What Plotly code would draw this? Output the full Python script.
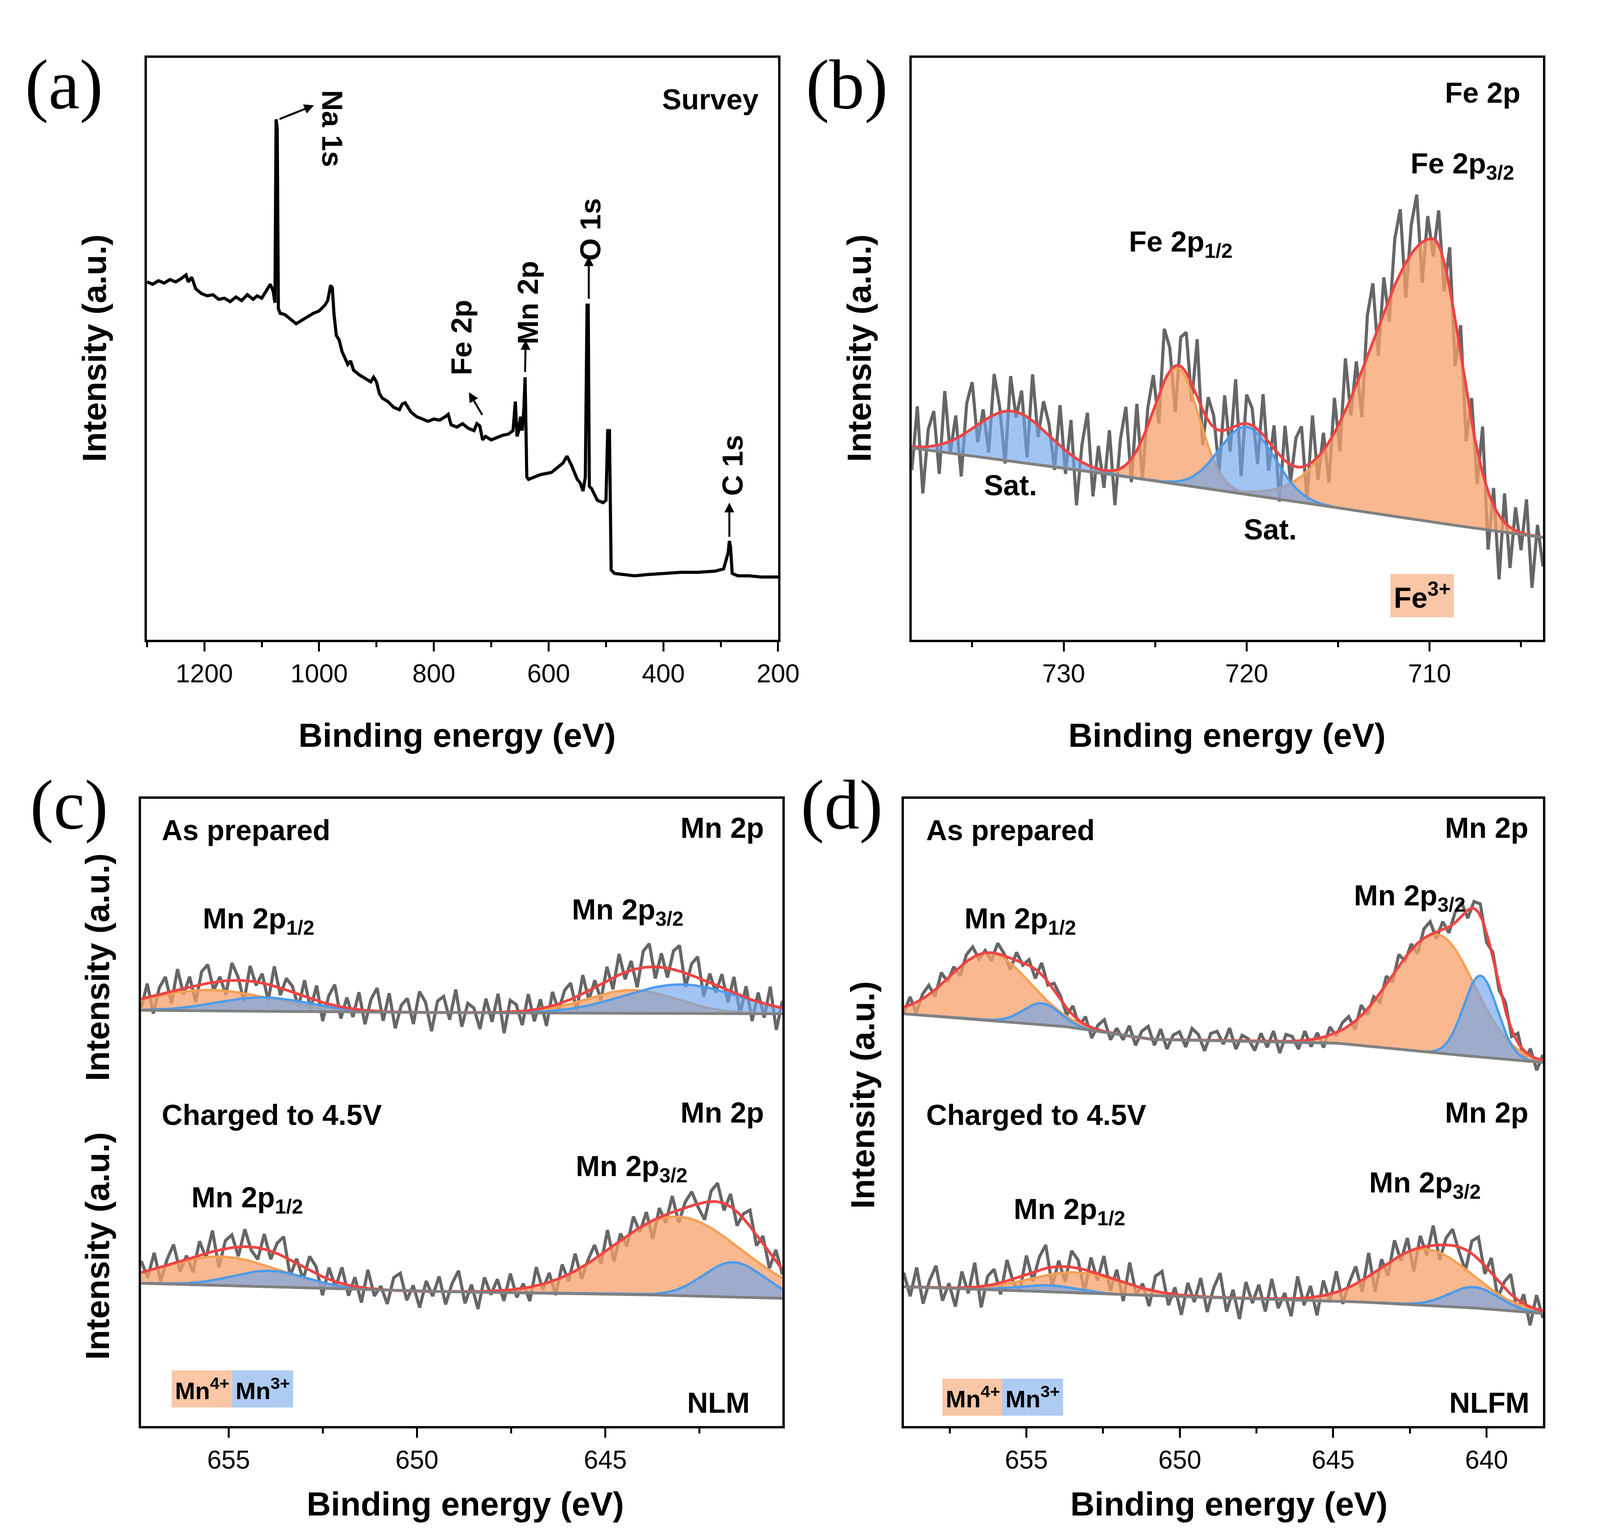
import numpy as np
import plotly.graph_objects as go

# ---------------- data ----------------
survey_be = [1300,1290,1280,1270,1260,1250,1240,1232,1228,1222,1215,1205,1195,1185,1175,1165,1155,1145,1135,1125,1115,1108,1100,1092,1085,1080,1077,1075,1073,1071,1068,1060,1050,1040,1030,1020,1010,1000,990,985,980,977,974,970,965,960,955,950,945,940,930,920,910,905,900,895,890,880,870,860,855,850,840,830,820,810,800,790,780,775,770,760,750,740,730,725,720,715,710,700,690,680,670,662,658,655,652,649,646,643,641,638,635,625,615,605,595,585,575,568,560,550,545,540,536,533,531,529,525,515,505,500,497,494,491,485,470,450,430,400,370,340,310,295,287,285,283,280,270,250,230,200]
survey_int = [308,306,309,307,310,308,311,314,308,312,302,298,296,297,293,294,291,295,292,297,293,296,294,300,306,300,290,448,440,285,281,280,276,272,275,278,281,283,288,292,305,303,280,262,258,248,243,237,240,232,228,225,222,226,222,212,208,205,200,198,203,204,196,192,190,188,190,189,192,194,185,183,186,182,180,186,184,172,175,172,174,176,177,180,205,175,180,192,180,200,226,140,138,140,142,143,144,148,152,158,150,138,135,128,140,288,288,132,130,120,118,120,180,180,60,57,56,55,56,57,58,58,59,61,75,85,80,57,55,55,54,54]

# peaks: (center eV, height, sigma on high-BE side, sigma on low-BE side)
fe_range = [738.3, 703.8]
fe_bg_be = [738.3, 730.0, 719.0, 710.7, 703.8]
fe_bg_int = [165, 148, 123, 103, 88]
fe_orange = [(709.8, 244, 3.3, 1.5), (723.8, 100, 1.3, 1.2)]
fe_blue = [(732.8, 43, 2.0, 2.0), (720.0, 58, 1.5, 1.5)]
fe_res = [-20,35,-40,15,30,-25,45,-10,20,-35,25,40,-15,10,-30,35,5,-45,30,-5,20,-35,40,-10,25,10,-25,35,-20,30,-40,15,45,-25,20,-15,35,-30,25,50,-20,40,-35,15,30,-25,45,20,-40,25,35,-15,50,-30,20,10,-35,30,-20,40,-45,25,15,-30,35,-25,20,-40,30,-15,25,35,-30,40,-20,15,-35,30,-25,45,-15,20,-40,35,50,-25,30,-20,40,55,-30,25,45,-35,20,-15,30,-25,35,-40,25,-45,20,-30,40,-50,15,-55,25,-35,20,-15,30,-45,10,-25]

c_range = [657.32, 640.3]
cu_bg_be = [657.3, 650.0, 640.3]; cu_bg_int = [358, 356, 355]
cu_orange = [(655.5, 18, 1.6, 1.6), (644.3, 20, 1.2, 1.2)]
cu_blue = [(654.1, 12, 1.2, 1.2), (643.0, 25, 1.5, 1.5)]
cu_res = [-8,12,-15,6,14,-10,18,-5,9,-14,11,16,-7,4,-12,15,3,-18,13,-3,8,-14,17,-6,10,5,-11,14,-9,13,-16,7,18,-10,9,-7,15,-12,10,20,-8,16,-14,6,12,-10,18,9,-16,10,14,-6,20,-12,8,4,-14,12,-8,16,-18,10,6,-12,14,-10,8,-16,12,-6,10,14,-12,16,-8,6,-14,12,-10,18,-6,8,-16,14,20,-10,12,-8,16,22,-12,10,18,-14,8,-6,12,-10,14,-16,10,-18,8,-12,16,-20,6]
cl_bg_be = [657.3, 650.0, 645.0, 640.3]; cl_bg_int = [123, 116, 114, 110]
cl_orange = [(655.2, 25, 1.5, 1.5), (643.1, 68, 1.7, 1.7)]
cl_blue = [(653.9, 14, 1.0, 1.0), (641.6, 30, 0.8, 0.8)]
cl_res = [10,-6,14,-12,5,16,-9,3,-13,12,-4,18,-15,7,11,-8,15,-3,-10,13,-7,9,17,-14,4,-11,12,6,-16,10,-5,14,-9,8,-13,16,-6,3,-12,11,15,-8,5,-14,9,-4,13,-11,7,18,-10,6,-15,12,-3,10,-9,14,-7,4,-12,16,-5,8,-13,11,-6,15,-10,3,12,-8,17,-14,6,-9,13,-4,10,-16,8,-7,14,-11,5,12,-3,-15,9,16,-6,11,-12,4,14,-9,7,-13,10,-5]

d_range = [659.0, 638.16]
du_bg_be = [659.0, 654.0, 651.0, 645.0, 642.0, 638.2]; du_bg_int = [355, 345, 333, 330, 322, 313]
du_orange = [(656.2, 58, 1.3, 1.3), (641.6, 102, 1.5, 1.2)]
du_blue = [(654.5, 18, 0.6, 0.6), (640.2, 70, 0.55, 0.55)]
du_res = [-5,7,-9,4,8,-6,10,-3,5,-8,6,9,-4,2,-7,9,2,-10,7,-2,5,-8,10,-3,6,3,-6,8,-5,7,-9,4,10,-6,5,-4,9,-7,6,11,-5,9,-8,4,7,-6,10,5,-9,6,8,-3,11,-7,5,2,-8,7,-5,9,-10,6,4,-7,8,-6,5,-9,7,-3,6,8,-7,9,-5,4,-8,7,-6,10,-3,5,-9,8,11,-6,7,-5,9,12,-7,6,10,-8,5,-4,7,-6,8,-9,6,-10,5]
dl_bg_be = [659.0, 652.0, 645.0, 641.0, 638.2]; dl_bg_int = [120, 113, 108, 103, 97]
dl_orange = [(653.4, 18, 1.5, 1.5), (642.0, 48, 1.5, 1.5)]
dl_blue = [(654.3, 6, 1.0, 1.0), (640.4, 18, 0.8, 0.8)]
dl_res = [12,-8,17,-14,6,19,-11,4,-16,14,-5,21,-18,8,13,-10,18,-4,-12,16,-8,11,20,-17,5,-13,14,7,-19,12,-6,17,-11,9,-16,19,-7,4,-14,13,18,-10,6,-17,11,-5,16,-13,8,21,-12,7,-18,14,-4,12,-11,17,-8,5,-15,19,-6,10,-16,13,-7,18,-12,4,15,-10,20,-17,7,-11,16,-5,12,-19,10,-8,17,-13,6,14,-4,-18,11,19,-7,13,-15,5,17,-11,8,-16,12,-6]

# ---------------- styling ----------------
FONT = "Liberation Sans"
ORANGE_FILL = "rgba(247,160,105,0.75)"; ORANGE_LINE = "#F4A055"
BLUE_FILL = "rgba(110,165,235,0.65)"; BLUE_LINE = "#4C9BEB"
RED = "#EE4444"; GRAY = "#666666"; BGLINE = "#808080"

fig = go.Figure()

def comp(x, c, h, sh, sl):
    s = np.where(x > c, sh, sl)
    return h * np.exp(-0.5 * ((x - c) / s) ** 2)

def spectrum(xa, ya, rng, bg_be, bg_int, oranges, blues, res):
    x = np.linspace(rng[0], rng[1], 400)
    bg = np.interp(x, bg_be[::-1], bg_int[::-1])
    total = bg.copy()
    comps = []
    for p in oranges:
        c = comp(x, *p); total += c; comps.append((c, ORANGE_FILL, ORANGE_LINE))
    for p in blues:
        c = comp(x, *p); total += c; comps.append((c, BLUE_FILL, BLUE_LINE))
    xr = np.linspace(rng[0], rng[1], len(res))
    tr = np.interp(xr, x[::-1], total[::-1]) + np.array(res)
    fig.add_trace(go.Scatter(x=xr, y=tr, mode="lines", line=dict(color=GRAY, width=8),
                             xaxis=xa, yaxis=ya, showlegend=False))
    for c, fc, lc in comps:
        fig.add_trace(go.Scatter(x=x, y=bg, mode="lines", line=dict(width=0),
                                 xaxis=xa, yaxis=ya, showlegend=False))
        fig.add_trace(go.Scatter(x=x, y=bg + c, mode="lines", fill="tonexty", fillcolor=fc,
                                 line=dict(color=lc, width=6), xaxis=xa, yaxis=ya, showlegend=False))
    fig.add_trace(go.Scatter(x=x, y=total, mode="lines", line=dict(color=RED, width=7),
                             xaxis=xa, yaxis=ya, showlegend=False))
    fig.add_trace(go.Scatter(x=x, y=bg, mode="lines", line=dict(color=BGLINE, width=7),
                             xaxis=xa, yaxis=ya, showlegend=False))

fig.add_trace(go.Scatter(x=survey_be, y=survey_int, mode="lines", line=dict(color="black", width=8),
                         xaxis="x", yaxis="y", showlegend=False))
spectrum("x2", "y2", fe_range, fe_bg_be, fe_bg_int, fe_orange, fe_blue, fe_res)
spectrum("x3", "y3", c_range, cu_bg_be, cu_bg_int, cu_orange, cu_blue, cu_res)
spectrum("x3", "y3", c_range, cl_bg_be, cl_bg_int, cl_orange, cl_blue, cl_res)
spectrum("x4", "y4", d_range, du_bg_be, du_bg_int, du_orange, du_blue, du_res)
spectrum("x4", "y4", d_range, dl_bg_be, dl_bg_int, dl_orange, dl_blue, dl_res)

def xax(dom, rng, dtick, minor, anchor):
    return dict(domain=dom, range=rng, dtick=dtick, tick0=0, showline=True, linewidth=6, linecolor="black",
                mirror=True, ticks="outside", ticklen=24, tickwidth=5, tickcolor="black",
                minor=dict(dtick=minor, ticks="outside", ticklen=13, tickwidth=5, tickcolor="black"),
                showgrid=False, zeroline=False, anchor=anchor,
                tickfont=dict(family=FONT, size=66, color="black"))

def yax(dom, rng, anchor):
    return dict(domain=dom, range=rng, showline=True, linewidth=6, linecolor="black", mirror=True,
                showticklabels=False, ticks="", showgrid=False, zeroline=False, anchor=anchor)

top = [1 - 548/1310, 1 - 47/1310]
bot = [1 - 1225/1310, 1 - 685/1310]
fig.update_layout(
    autosize=True, margin=dict(l=0, r=0, t=0, b=0),
    paper_bgcolor="white", plot_bgcolor="white",
    xaxis=xax([142/1552, 765/1552], [1300, 200], 200, 100, "y"),
    yaxis=yax(top, [0, 501], "x"),
    xaxis2=xax([897/1552, 1520/1552], fe_range, 10, 5, "y2"),
    yaxis2=yax(top, [0, 501], "x2"),
    xaxis3=xax([136.3/1552, 769.2/1552], c_range, 5, 2.5, "y3"),
    yaxis3=yax(bot, [0, 540], "x3"),
    xaxis4=xax([889/1552, 1520/1552], d_range, 5, 2.5, "y4"),
    yaxis4=yax(bot, [0, 540], "x4"),
)

ann = []
def txt(x, y, t, xr, yr, size=74, angle=0, xanchor="center", bg=None, family=FONT):
    d = dict(x=x, y=y, text="<b>%s</b>" % t if family == FONT else t, xref=xr, yref=yr, showarrow=False,
             textangle=angle, xanchor=xanchor, yanchor="middle",
             font=dict(family=family, size=size, color="black"))
    if bg:
        d.update(bgcolor=bg, borderpad=8)
    ann.append(d)

def arrow(x, y, ax, ay, xr, yr):
    ann.append(dict(x=x, y=y, ax=ax, ay=ay, xref=xr, yref=yr, axref=xr, ayref=yr, text="",
                    showarrow=True, arrowhead=2, arrowsize=1, arrowwidth=5, arrowcolor="black"))

for t, px, py in [("(a)", 60, 70), ("(b)", 833, 70), ("(c)", 65, 690), ("(d)", 828, 690)]:
    txt(px/1552, 1 - py/1310, t, "paper", "paper", size=180, family="Liberation Serif")
for px, py in [(90, 297), (845, 297), (93, 830), (93, 1070), (848, 940)]:
    txt(px/1552, 1 - py/1310, "Intensity (a.u.)", "paper", "paper", size=86, angle=-90)
for px, py in [(448, 630), (1208, 630), (456, 1292), (1210, 1292)]:
    txt(px/1552, 1 - py/1310, "Binding energy (eV)", "paper", "paper", size=86)

txt(318, 465, "Survey", "x", "y")
txt(977, 440, "Na 1s", "x", "y", angle=90)
arrow(1009, 460, 1070, 448, "x", "y")
txt(752, 260, "Fe 2p", "x", "y", angle=-90)
arrow(739, 213, 715, 193, "x", "y")
txt(636, 290, "Mn 2p", "x", "y", angle=-90)
arrow(640, 258, 641, 230, "x", "y")
txt(527, 353, "O 1s", "x", "y", angle=-90)
arrow(530, 330, 530, 293, "x", "y")
txt(279, 150, "C 1s", "x", "y", angle=-90)
arrow(285, 118, 285, 88, "x", "y")

txt(707.1, 471, "Fe 2p", "x2", "y2")
txt(708.2, 408, "Fe 2p<sub>3/2</sub>", "x2", "y2")
txt(723.6, 341, "Fe 2p<sub>1/2</sub>", "x2", "y2")
txt(732.9, 133, "Sat.", "x2", "y2")
txt(718.7, 95, "Sat.", "x2", "y2")
txt(710.4, 38, "Fe<sup>3+</sup>", "x2", "y2", bg="#F9C6A6")

txt(656.8, 513, "As prepared", "x3", "y3", xanchor="left")
txt(641.9, 515, "Mn 2p", "x3", "y3")
txt(654.2, 435, "Mn 2p<sub>1/2</sub>", "x3", "y3")
txt(644.4, 443, "Mn 2p<sub>3/2</sub>", "x3", "y3")
txt(656.8, 268, "Charged to 4.5V", "x3", "y3", xanchor="left")
txt(641.9, 270, "Mn 2p", "x3", "y3")
txt(654.5, 195, "Mn 2p<sub>1/2</sub>", "x3", "y3")
txt(644.3, 222, "Mn 2p<sub>3/2</sub>", "x3", "y3")
txt(642.0, 20, "NLM", "x3", "y3")
txt(655.7, 32, "Mn<sup>4+</sup>", "x3", "y3", size=62, bg="#F9C6A6")
txt(654.1, 32, "Mn<sup>3+</sup>", "x3", "y3", size=62, bg="#AECBF2")

txt(658.3, 513, "As prepared", "x4", "y4", xanchor="left")
txt(640.0, 515, "Mn 2p", "x4", "y4")
txt(655.2, 435, "Mn 2p<sub>1/2</sub>", "x4", "y4")
txt(642.5, 455, "Mn 2p<sub>3/2</sub>", "x4", "y4")
txt(658.3, 268, "Charged to 4.5V", "x4", "y4", xanchor="left")
txt(640.0, 270, "Mn 2p", "x4", "y4")
txt(653.6, 185, "Mn 2p<sub>1/2</sub>", "x4", "y4")
txt(642.0, 208, "Mn 2p<sub>3/2</sub>", "x4", "y4")
txt(639.9, 20, "NLFM", "x4", "y4")
txt(656.75, 25, "Mn<sup>4+</sup>", "x4", "y4", size=62, bg="#F9C6A6")
txt(654.8, 25, "Mn<sup>3+</sup>", "x4", "y4", size=62, bg="#AECBF2")

fig.update_layout(annotations=ann)
fig.write_html("out.html", default_width="100%", default_height="100%")
